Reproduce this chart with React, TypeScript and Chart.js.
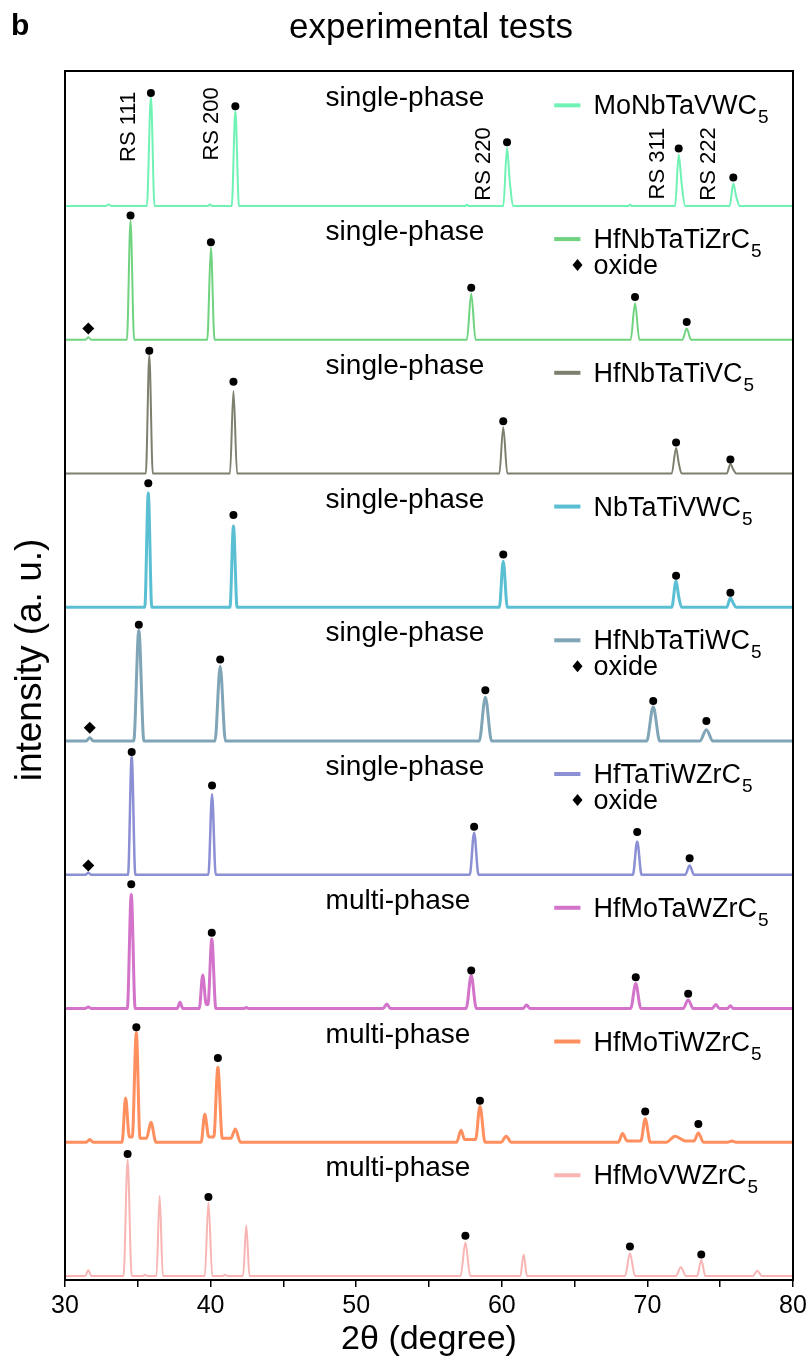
import { useEffect, useRef } from 'react';
import { Chart, registerables } from 'chart.js';

Chart.register(...registerables);

const FONT = '"Liberation Sans", Arial, Helvetica, sans-serif';

// ---- axis ----
const xMin = 30;
const xMax = 80;
const xTickStep = 5;
const xLabelEvery = 10;

// ---- trace metadata (top to bottom) ----
const traceNames = ['MoNbTaVWC', 'HfNbTaTiZrC', 'HfNbTaTiVC', 'NbTaTiVWC', 'HfNbTaTiWC', 'HfTaTiWZrC', 'HfMoTaWZrC', 'HfMoTiWZrC', 'HfMoVWZrC'];
const traceSub = '5';
const phaseLabels = ['single-phase', 'single-phase', 'single-phase', 'single-phase', 'single-phase', 'single-phase', 'multi-phase', 'multi-phase', 'multi-phase'];
const traceColors = ['#6ff2b4', '#6fd37f', '#7f7f6f', '#5bbfd4', '#80a5b7', '#8b8fd4', '#d374ca', '#ff8f5e', '#f9b4b4'];
const traceWidths = [2, 2, 2, 3, 3, 2.5, 3, 3, 2];
const rsLabels = ['RS 111', 'RS 200', 'RS 220', 'RS 311', 'RS 222'];

// ---- series: [2θ, intensity] ----
const moNbTaVWC5: [number, number][] = [[30,0],[32.8,0],[33.0,0.012],[33.2,0],[35.62,0],[35.9,0.815],[36.15,0],[39.8,0],[39.95,0.012],[40.1,0],[41.45,0],[41.7,0.713],[41.95,0],[57.45,0],[57.6,0.01],[57.75,0],[60.1,0],[60.36,0.436],[60.55,0.18],[60.8,0],[68.65,0],[68.8,0.01],[68.95,0],[71.9,0],[72.15,0.385],[72.35,0.17],[72.6,0],[75.65,0],[75.9,0.169],[76.1,0.07],[76.35,0],[80,0]];
const hfNbTaTiZrC5: [number, number][] = [[30,0],[31.4,0],[31.6,0.02],[31.8,0],[34.25,0],[34.5,0.89],[34.75,0],[39.77,0],[40.02,0.69],[40.27,0],[57.6,0],[57.9,0.346],[58.2,0],[68.85,0],[69.15,0.274],[69.45,0],[72.4,0],[72.7,0.085],[73.0,0],[80,0]];
const hfNbTaTiVC5: [number, number][] = [[30,0],[35.55,0],[35.79,0.885],[36.03,0],[41.33,0],[41.57,0.618],[41.82,0],[59.83,0],[60.1,0.346],[60.38,0],[71.67,0],[71.97,0.192],[72.15,0.08],[72.35,0],[75.45,0],[75.7,0.072],[75.9,0.03],[76.1,0],[80,0]];
const nbTaTiVWC5: [number, number][] = [[30,0],[35.48,0],[35.72,0.856],[35.96,0],[41.33,0],[41.57,0.608],[41.82,0],[59.83,0],[60.1,0.344],[60.38,0],[71.67,0],[71.97,0.197],[72.15,0.08],[72.35,0],[75.45,0],[75.7,0.069],[75.9,0.03],[76.1,0],[80,0]];
const hfNbTaTiWC5: [number, number][] = [[30,0],[31.45,0],[31.7,0.025],[31.95,0],[34.72,0],[35.07,0.828],[35.42,0],[40.3,0],[40.66,0.559],[41.02,0],[58.45,0],[58.87,0.328],[59.3,0],[69.95,0],[70.4,0.256],[70.85,0],[73.6,0],[74.05,0.085],[74.5,0],[80,0]];
const hfTaTiWZrC5: [number, number][] = [[30,0],[31.4,0],[31.6,0.015],[31.8,0],[34.33,0],[34.58,0.885],[34.83,0],[39.85,0],[40.1,0.603],[40.35,0],[57.8,0],[58.1,0.315],[58.4,0],[69.0,0],[69.3,0.249],[69.6,0],[72.6,0],[72.9,0.069],[73.2,0],[80,0]];
const hfMoTaWZrC5: [number, number][] = [[30,0],[31.4,0],[31.6,0.012],[31.8,0],[34.28,0],[34.55,0.854],[34.82,0],[37.7,0],[37.9,0.046],[38.1,0],[39.22,0],[39.46,0.251],[39.7,0.03],[39.82,0.03],[40.08,0.52],[40.36,0],[42.3,0],[42.45,0.008],[42.6,0],[51.85,0],[52.1,0.033],[52.35,0],[57.55,0],[57.9,0.246],[58.25,0],[61.45,0],[61.7,0.026],[61.95,0],[68.85,0],[69.2,0.187],[69.55,0],[72.45,0],[72.8,0.064],[73.15,0],[74.45,0],[74.7,0.03],[74.95,0],[75.5,0],[75.7,0.02],[75.9,0],[80,0]];
const hfMoTiWZrC5: [number, number][] = [[30,0],[31.45,0],[31.7,0.02],[31.95,0],[33.92,0],[34.16,0.33],[34.42,0.04],[34.62,0.04],[34.9,0.82],[35.15,0.03],[35.6,0.03],[35.9,0.15],[36.25,0],[39.35,0],[39.6,0.21],[39.87,0.04],[40.22,0.04],[40.5,0.56],[40.8,0.03],[41.4,0.03],[41.7,0.1],[42.05,0],[56.9,0],[57.2,0.09],[57.45,0.02],[58.2,0.02],[58.5,0.27],[58.85,0],[59.95,0],[60.3,0.045],[60.65,0],[68.0,0],[68.3,0.065],[68.6,0.01],[69.55,0.01],[69.85,0.175],[70.2,0],[71.3,0],[71.9,0.045],[72.6,0.01],[73.2,0.01],[73.5,0.07],[73.85,0],[75.5,0],[75.8,0.01],[76.1,0],[80,0]];
const hfMoVWZrC5: [number, number][] = [[30,0],[31.4,0],[31.6,0.045],[31.8,0],[34.02,0],[34.3,0.87],[34.58,0],[35.35,0],[35.5,0.01],[35.65,0],[36.28,0],[36.5,0.6],[36.72,0],[39.6,0],[39.85,0.55],[40.12,0],[40.85,0],[41.0,0.01],[41.15,0],[42.23,0],[42.45,0.38],[42.67,0],[57.17,0],[57.5,0.25],[57.83,0],[61.27,0],[61.5,0.16],[61.73,0],[68.47,0],[68.8,0.17],[69.15,0],[71.95,0],[72.3,0.065],[72.65,0],[73.42,0],[73.7,0.12],[73.98,0],[77.25,0],[77.55,0.04],[77.85,0],[80,0]];

// ---- rock-salt reflection markers (black dots) ----
const dotsMoNbTaVWC5: [number, number][] = [[35.9,0.846],[41.7,0.746],[60.36,0.477],[72.15,0.43],[75.9,0.213]];
const dotsHfNbTaTiZrC5: [number, number][] = [[34.5,0.93],[40.02,0.73],[57.9,0.39],[69.15,0.32],[72.7,0.133]];
const dotsHfNbTaTiVC5: [number, number][] = [[35.79,0.918],[41.57,0.687],[60.1,0.392],[71.97,0.233],[75.7,0.105]];
const dotsNbTaTiVWC5: [number, number][] = [[35.72,0.928],[41.57,0.69],[60.1,0.395],[71.97,0.236],[75.7,0.108]];
const dotsHfNbTaTiWC5: [number, number][] = [[35.07,0.87],[40.66,0.61],[58.87,0.38],[70.4,0.3],[74.05,0.15]];
const dotsHfTaTiWZrC5: [number, number][] = [[34.58,0.918],[40.1,0.667],[58.1,0.359],[69.3,0.32],[72.9,0.123]];
const dotsHfMoTaWZrC5: [number, number][] = [[34.55,0.93],[40.08,0.567],[57.9,0.285],[69.2,0.233],[72.8,0.11]];
const dotsHfMoTiWZrC5: [number, number][] = [[34.9,0.86],[40.5,0.63],[58.5,0.31],[69.85,0.23],[73.5,0.136]];
const dotsHfMoVWZrC5: [number, number][] = [[34.3,0.913],[39.85,0.59],[57.5,0.3],[68.8,0.22],[73.7,0.16]];

// ---- oxide markers (diamonds) ----
const oxideHfNbTaTiZrC5: [number, number][] = [[31.6, 0.085]];
const oxideHfNbTaTiWC5: [number, number][] = [[31.7, 0.1]];
const oxideHfTaTiWZrC5: [number, number][] = [[31.6, 0.069]];

const traces = [moNbTaVWC5, hfNbTaTiZrC5, hfNbTaTiVC5, nbTaTiVWC5, hfNbTaTiWC5, hfTaTiWZrC5, hfMoTaWZrC5, hfMoTiWZrC5, hfMoVWZrC5];
const dots = [dotsMoNbTaVWC5, dotsHfNbTaTiZrC5, dotsHfNbTaTiVC5, dotsNbTaTiVWC5, dotsHfNbTaTiWC5, dotsHfTaTiWZrC5, dotsHfMoTaWZrC5, dotsHfMoTiWZrC5, dotsHfMoVWZrC5];
const oxides: ([number, number][] | null)[] = [null, oxideHfNbTaTiZrC5, null, null, oxideHfNbTaTiWC5, oxideHfTaTiWZrC5, null, null, null];
// RS label anchors (2θ of label centre line, intensity of label bottom) on the top trace
const rsAnchors: [number, number][] = [[34.4, 0.33], [40.1, 0.34], [58.8, 0.04], [70.7, 0.05], [74.2, 0.04]];

const N = traces.length;

const annotPlugin = {
  id: 'xrdAnnotations',
  afterDatasetsDraw(chart: any) {
    const { ctx, chartArea, scales } = chart;
    const xs = scales.x;
    const ys = scales.y;
    ctx.save();
    // frame
    ctx.strokeStyle = '#000';
    ctx.lineWidth = 2;
    ctx.strokeRect(chartArea.left, chartArea.top, chartArea.right - chartArea.left, chartArea.bottom - chartArea.top);

    const phaseX = xs.getPixelForValue(47.9);
    for (let k = 0; k < N; k++) {
      const offset = N - 1 - k;
      const top = ys.getPixelForValue(offset + 1);
      ctx.fillStyle = '#000';
      ctx.font = `28px ${FONT}`;
      ctx.textAlign = 'left';
      ctx.textBaseline = 'alphabetic';
      ctx.fillText(phaseLabels[k], phaseX, top + 34);

      // legend entry
      const ly = top + 33;
      ctx.strokeStyle = traceColors[k];
      ctx.lineWidth = 4;
      ctx.beginPath();
      ctx.moveTo(xs.getPixelForValue(63.6), ly);
      ctx.lineTo(xs.getPixelForValue(65.4), ly);
      ctx.stroke();
      ctx.font = `27px ${FONT}`;
      const tx = xs.getPixelForValue(66.3);
      ctx.fillText(traceNames[k], tx, top + 42);
      const w = ctx.measureText(traceNames[k]).width;
      ctx.font = `19px ${FONT}`;
      ctx.fillText(traceSub, tx + w + 1, top + 51);

      if (oxides[k]) {
        ctx.font = `27px ${FONT}`;
        ctx.fillText('oxide', tx, top + 68);
        const dx = xs.getPixelForValue(65.2);
        const dy = top + 59;
        ctx.beginPath();
        ctx.moveTo(dx, dy - 6);
        ctx.lineTo(dx + 5, dy);
        ctx.lineTo(dx, dy + 6);
        ctx.lineTo(dx - 5, dy);
        ctx.closePath();
        ctx.fill();
      }
    }

    // RS labels for the top trace
    ctx.font = `22px ${FONT}`;
    ctx.textAlign = 'left';
    ctx.textBaseline = 'middle';
    rsLabels.forEach((t, i) => {
      const px = xs.getPixelForValue(rsAnchors[i][0]);
      const py = ys.getPixelForValue(N - 1 + rsAnchors[i][1]);
      ctx.save();
      ctx.translate(px, py);
      ctx.rotate(-Math.PI / 2);
      ctx.fillText(t, 0, 0);
      ctx.restore();
    });

    // y-axis title
    ctx.save();
    ctx.font = `37px ${FONT}`;
    ctx.textAlign = 'center';
    ctx.textBaseline = 'middle';
    ctx.translate(31, 660);
    ctx.rotate(-Math.PI / 2);
    ctx.fillText('intensity (a. u.)', 0, 0);
    ctx.restore();

    ctx.restore();
  },
  afterDraw(chart: any) {
    const { ctx } = chart;
    ctx.save();
    ctx.fillStyle = '#000';
    ctx.textBaseline = 'middle';
    ctx.textAlign = 'left';
    ctx.font = `bold 30px ${FONT}`;
    ctx.fillText('b', 11, 27);
    ctx.textAlign = 'center';
    ctx.font = `35px ${FONT}`;
    ctx.fillText('experimental tests', 431, 28);
    ctx.restore();
  },
};

export default function App() {
  const canvasRef = useRef<HTMLCanvasElement>(null);

  useEffect(() => {
    if (!canvasRef.current) return;
    const datasets: any[] = [];
    for (let k = 0; k < N; k++) {
      const offset = N - 1 - k;
      datasets.push({
        label: traceNames[k] + traceSub,
        data: traces[k].map(([x, y]) => ({ x, y: y + offset })),
        borderColor: traceColors[k],
        borderWidth: traceWidths[k],
        pointRadius: 0,
        fill: false,
        cubicInterpolationMode: 'monotone',
        order: 2,
      });
      datasets.push({
        label: 'RS ' + traceNames[k],
        data: dots[k].map(([x, y]) => ({ x, y: y + offset })),
        showLine: false,
        pointRadius: 4,
        pointStyle: 'circle',
        backgroundColor: '#000',
        borderColor: '#000',
        borderWidth: 0,
        order: 0,
      });
      const ox = oxides[k];
      if (ox) {
        datasets.push({
          label: 'oxide ' + traceNames[k],
          data: ox.map(([x, y]) => ({ x, y: y + offset })),
          showLine: false,
          pointRadius: 6,
          pointStyle: 'rectRot',
          backgroundColor: '#000',
          borderColor: '#000',
          borderWidth: 0,
          order: 0,
        });
      }
    }

    const chart = new Chart(canvasRef.current, {
      type: 'line',
      data: { datasets },
      options: {
        animation: false,
        responsive: false,
        devicePixelRatio: 1,
        layout: { padding: { top: 71, right: 19, bottom: 0, left: 0 } },
        plugins: { legend: { display: false }, tooltip: { enabled: false } },
        scales: {
          x: {
            type: 'linear',
            min: xMin,
            max: xMax,
            afterFit: (s: any) => { s.height = 82; },
            ticks: {
              stepSize: xTickStep,
              color: '#000',
              font: { family: FONT, size: 25 },
              padding: 4,
              maxRotation: 0,
              autoSkip: false,
              callback: (v: any) => (Number(v) % xLabelEvery === 0 ? String(v) : ''),
            },
            grid: { drawOnChartArea: false, drawTicks: true, tickLength: 7, color: '#000', lineWidth: 1.5 },
            border: { display: true, color: '#000', width: 2 },
            title: { display: true, text: '2θ (degree)', color: '#000', font: { family: FONT, size: 34 }, padding: { top: 0, bottom: 2 } },
          },
          y: {
            type: 'linear',
            min: -0.03,
            max: 9.01,
            afterFit: (s: any) => { s.width = 65; },
            ticks: { display: false },
            grid: { display: false },
            border: { display: false },
            title: { display: false },
          },
        },
      },
      plugins: [annotPlugin],
    });
    return () => chart.destroy();
  }, []);

  return (
    <div style={{ position: 'absolute', left: 0, top: 0, width: 812, height: 1362, background: '#fff' }}>
      <canvas ref={canvasRef} width={812} height={1362} style={{ width: 812, height: 1362 }} />
    </div>
  );
}
